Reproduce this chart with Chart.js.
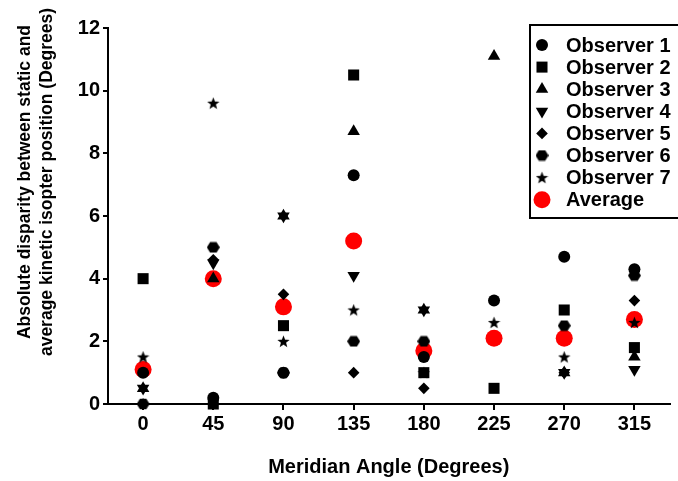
<!DOCTYPE html>
<html>
<head>
<meta charset="utf-8">
<script src="https://cdn.jsdelivr.net/npm/chart.js@4.4.1/dist/chart.umd.min.js"></script>
<style>
  html, body { margin: 0; padding: 0; background: #fff; }
  #wrap { width: 678px; height: 481px; position: relative; }
</style>
</head>
<body>
<div id="wrap"><canvas id="c" width="678" height="481"></canvas></div>
<script>
// ---- Data ----
const categories = ['0', '45', '90', '135', '180', '225', '270', '315'];
const observer1 = [1.0, 0.2, 1.0, 7.3, 1.5, 3.3, 4.7, 4.3];
const observer2 = [4.0, 0.0, 2.5, 10.5, 1.0, 0.5, 3.0, 1.8];
const observer3 = [0.5, 4.0, 6.0, 8.7, 3.0, 11.1, 1.0, 1.5];
const observer4 = [0.5, 4.5, 6.0, 4.1, 3.0, null, 1.0, 1.1];
const observer5 = [0.0, 4.6, 3.5, 1.0, 0.5, null, 1.0, 3.3];
const observer6 = [0.0, 5.0, 1.0, 2.0, 2.0, null, 2.5, 4.1];
const observer7 = [1.5, 9.6, 2.0, 3.0, 1.0, 2.6, 1.5, 2.6];
const average   = [1.1, 4.0, 3.1, 5.2, 1.7, 2.1, 2.1, 2.7];
const seriesNames = ['Observer 1', 'Observer 2', 'Observer 3', 'Observer 4',
                     'Observer 5', 'Observer 6', 'Observer 7', 'Average'];
const yTicks = [0, 2, 4, 6, 8, 10, 12];
const xTitle = 'Meridian Angle (Degrees)';
const yTitleLines = ['Absolute disparity between static and',
                     'average kinetic isopter position (Degrees)'];

// ---- Marker glyphs ----
function makeHexagon() {
  const c = document.createElement('canvas');
  c.width = 13; c.height = 12;
  const g = c.getContext('2d');
  g.fillStyle = '#000';
  g.beginPath();
  const cx = 6.5, cy = 6, rx = 6.5, ry = 6;
  for (let i = 0; i < 6; i++) {
    const a = Math.PI / 3 * i;
    const px = cx + rx * Math.cos(a), py = cy + ry * Math.sin(a);
    if (i === 0) g.moveTo(px, py); else g.lineTo(px, py);
  }
  g.closePath(); g.fill();
  return c;
}
function makeStar() {
  const c = document.createElement('canvas');
  c.width = 13; c.height = 13;
  const g = c.getContext('2d');
  g.fillStyle = '#000';
  g.beginPath();
  const cx = 6.5, cy = 7, R = 6.5, r = 2.7;
  for (let i = 0; i < 10; i++) {
    const a = -Math.PI / 2 + i * Math.PI / 5;
    const rad = i % 2 === 0 ? R : r;
    const px = cx + rad * Math.cos(a), py = cy + rad * Math.sin(a);
    if (i === 0) g.moveTo(px, py); else g.lineTo(px, py);
  }
  g.closePath(); g.fill();
  return c;
}
const hexImg = makeHexagon();
const starImg = makeStar();

const markerSpecs = [
  { pointStyle: 'circle', radius: 6, rotation: 0, color: '#000' },
  { pointStyle: 'rect', radius: 7.8, rotation: 0, color: '#000' },
  { pointStyle: 'triangle', radius: 7.2, rotation: 0, color: '#000' },
  { pointStyle: 'triangle', radius: 7.2, rotation: 180, color: '#000' },
  { pointStyle: 'rectRot', radius: 5.8, rotation: 0, color: '#000' },
  { pointStyle: hexImg, radius: 6, rotation: 0, color: '#000' },
  { pointStyle: starImg, radius: 6, rotation: 0, color: '#000' },
  { pointStyle: 'circle', radius: 8.5, rotation: 0, color: '#ff0000' }
];
const seriesData = [observer1, observer2, observer3, observer4,
                    observer5, observer6, observer7, average];

const datasets = seriesData.map((d, i) => ({
  label: seriesNames[i],
  data: d,
  showLine: false,
  clip: false,
  pointStyle: markerSpecs[i].pointStyle,
  pointRadius: markerSpecs[i].radius,
  pointHoverRadius: markerSpecs[i].radius,
  pointRotation: markerSpecs[i].rotation,
  pointBackgroundColor: markerSpecs[i].color,
  pointBorderColor: markerSpecs[i].color,
  pointBorderWidth: 0,
  backgroundColor: markerSpecs[i].color,
  borderColor: markerSpecs[i].color
}));

const FONT = '"Liberation Sans", Arial, Helvetica, sans-serif';

// custom legend + y title plugin
const decorPlugin = {
  id: 'decor',
  afterDraw(chart) {
    const ctx = chart.ctx;
    ctx.save();
    // Y axis title (two lines)
    ctx.fillStyle = '#000';
    ctx.font = 'bold 17.5px ' + FONT;
    ctx.textAlign = 'center';
    ctx.textBaseline = 'middle';
    const cy = 182;
    const xs = [25, 47];
    yTitleLines.forEach((t, i) => {
      ctx.save();
      ctx.translate(xs[i], cy);
      ctx.rotate(-Math.PI / 2);
      ctx.fillText(t, 0, 0);
      ctx.restore();
    });
    // Legend box
    const bx = 530, by = 25, bw = 160, bh = 193;
    ctx.fillStyle = '#fff';
    ctx.fillRect(bx, by, bw, bh);
    ctx.strokeStyle = '#000';
    ctx.lineWidth = 2;
    ctx.strokeRect(bx, by, bw, bh);
    ctx.font = 'bold 20px ' + FONT;
    ctx.textAlign = 'left';
    ctx.textBaseline = 'middle';
    const rowY0 = 45, rowStep = 22.1;
    seriesNames.forEach((name, i) => {
      const y = rowY0 + i * rowStep;
      const spec = markerSpecs[i];
      ctx.fillStyle = spec.color;
      ctx.strokeStyle = spec.color;
      Chart.helpers.drawPoint(ctx, {
        pointStyle: spec.pointStyle,
        radius: spec.radius,
        rotation: spec.rotation,
        borderWidth: 0
      }, 542, y);
      ctx.fillStyle = '#000';
      ctx.fillText(name, 566, y + 1);
    });
    ctx.restore();
  }
};

new Chart(document.getElementById('c'), {
  type: 'line',
  data: { labels: categories, datasets: datasets },
  options: {
    responsive: false,
    animation: false,
    devicePixelRatio: 1,
    layout: { padding: { left: 0, right: 5, top: 28, bottom: 0 } },
    plugins: {
      legend: { display: false },
      tooltip: { enabled: false },
      title: { display: false }
    },
    scales: {
      x: {
        type: 'category',
        offset: true,
        grid: {
          display: true,
          offset: false,
          drawOnChartArea: false,
          drawTicks: true,
          tickLength: 6,
          tickWidth: 2,
          color: '#000',
          lineWidth: 2
        },
        border: { display: true, color: '#000', width: 2 },
        ticks: {
          color: '#000',
          font: { family: FONT, size: 20, weight: 'bold' },
          padding: 2,
          maxRotation: 0
        },
        title: {
          display: true,
          text: xTitle,
          color: '#000',
          font: { family: FONT, size: 20, weight: 'bold' },
          padding: { top: 0, bottom: 2 }
        },
        afterFit(scale) { scale.height = 77; }
      },
      y: {
        min: 0,
        max: 12,
        grid: {
          display: true,
          drawOnChartArea: false,
          drawTicks: true,
          tickLength: 5,
          tickWidth: 2,
          color: '#000',
          lineWidth: 2
        },
        border: { display: true, color: '#000', width: 2 },
        afterBuildTicks(scale) {
          scale.ticks = yTicks.map(v => ({ value: v }));
        },
        ticks: {
          color: '#000',
          font: { family: FONT, size: 20, weight: 'bold' },
          padding: 3
        },
        afterFit(scale) { scale.width = 108; }
      }
    }
  },
  plugins: [decorPlugin]
});
</script>
</body>
</html>
